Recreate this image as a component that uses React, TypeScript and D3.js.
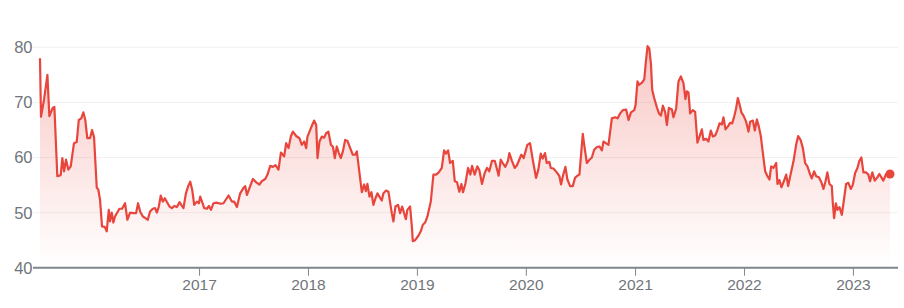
import React from "react";
import * as d3 from "d3";

// Dates as decimal years
const years: number[] = [
  2015.538, 2015.547, 2015.575, 2015.606, 2015.624, 2015.655, 2015.670, 2015.697, 2015.728, 2015.743,
  2015.759, 2015.777, 2015.798, 2015.820, 2015.850, 2015.875, 2015.894, 2015.917, 2015.936, 2015.954,
  2015.972, 2015.997, 2016.016, 2016.034, 2016.059, 2016.073, 2016.089, 2016.107, 2016.132, 2016.150,
  2016.169, 2016.180, 2016.196, 2016.211, 2016.226, 2016.266, 2016.291, 2016.318, 2016.339, 2016.364,
  2016.394, 2016.419, 2016.437, 2016.456, 2016.481, 2016.504, 2016.526, 2016.547, 2016.572, 2016.593,
  2016.609, 2016.627, 2016.645, 2016.664, 2016.682, 2016.725, 2016.747, 2016.768, 2016.793, 2016.817,
  2016.839, 2016.853, 2016.875, 2016.896, 2016.915, 2016.933, 2016.951, 2016.976, 2016.994, 2017.006,
  2017.043, 2017.068, 2017.086, 2017.105, 2017.128, 2017.153, 2017.196, 2017.220, 2017.266, 2017.297,
  2017.318, 2017.343, 2017.373, 2017.404, 2017.419, 2017.435, 2017.465, 2017.490, 2017.520, 2017.550,
  2017.572, 2017.603, 2017.624, 2017.649, 2017.673, 2017.697, 2017.725, 2017.747, 2017.777, 2017.795,
  2017.817, 2017.839, 2017.857, 2017.887, 2017.917, 2017.939, 2017.961, 2017.979, 2017.991, 2018.016,
  2018.034, 2018.052, 2018.071, 2018.083, 2018.101, 2018.123, 2018.144, 2018.162, 2018.183, 2018.206,
  2018.224, 2018.242, 2018.260, 2018.279, 2018.297, 2018.316, 2018.337, 2018.358, 2018.383, 2018.407,
  2018.428, 2018.444, 2018.468, 2018.490, 2018.511, 2018.527, 2018.541, 2018.560, 2018.578, 2018.596,
  2018.615, 2018.633, 2018.651, 2018.673, 2018.688, 2018.713, 2018.734, 2018.765, 2018.780, 2018.798,
  2018.823, 2018.841, 2018.860, 2018.878, 2018.894, 2018.908, 2018.933, 2018.949, 2018.958, 2018.979,
  2019.009, 2019.031, 2019.050, 2019.071, 2019.092, 2019.123, 2019.147, 2019.172, 2019.196, 2019.224,
  2019.245, 2019.263, 2019.282, 2019.300, 2019.325, 2019.343, 2019.364, 2019.385, 2019.404, 2019.419,
  2019.440, 2019.465, 2019.486, 2019.502, 2019.526, 2019.550, 2019.569, 2019.593, 2019.618, 2019.639,
  2019.660, 2019.685, 2019.710, 2019.728, 2019.746, 2019.765, 2019.783, 2019.807, 2019.832, 2019.844,
  2019.868, 2019.893, 2019.914, 2019.935, 2019.954, 2019.976, 2020.009, 2020.034, 2020.059, 2020.089,
  2020.110, 2020.132, 2020.150, 2020.171, 2020.187, 2020.211, 2020.224, 2020.248, 2020.279, 2020.303,
  2020.318, 2020.334, 2020.358, 2020.376, 2020.401, 2020.425, 2020.446, 2020.467, 2020.486, 2020.517,
  2020.532, 2020.554, 2020.578, 2020.600, 2020.621, 2020.646, 2020.670, 2020.692, 2020.706, 2020.728,
  2020.752, 2020.783, 2020.814, 2020.835, 2020.859, 2020.884, 2020.914, 2020.936, 2020.958, 2020.988,
  2021.000, 2021.018, 2021.034, 2021.059, 2021.080, 2021.095, 2021.110, 2021.126, 2021.141, 2021.153,
  2021.171, 2021.196, 2021.215, 2021.233, 2021.251, 2021.272, 2021.288, 2021.306, 2021.334, 2021.348,
  2021.373, 2021.394, 2021.416, 2021.440, 2021.458, 2021.471, 2021.486, 2021.501, 2021.526, 2021.547,
  2021.568, 2021.587, 2021.609, 2021.623, 2021.648, 2021.669, 2021.691, 2021.710, 2021.731, 2021.752,
  2021.771, 2021.793, 2021.807, 2021.826, 2021.850, 2021.868, 2021.887, 2021.905, 2021.923, 2021.939,
  2021.954, 2021.972, 2021.991, 2022.015, 2022.037, 2022.052, 2022.077, 2022.095, 2022.114, 2022.132,
  2022.150, 2022.169, 2022.190, 2022.211, 2022.229, 2022.245, 2022.266, 2022.291, 2022.303, 2022.321,
  2022.339, 2022.358, 2022.383, 2022.401, 2022.426, 2022.450, 2022.474, 2022.493, 2022.517, 2022.536,
  2022.557, 2022.578, 2022.603, 2022.618, 2022.639, 2022.658, 2022.683, 2022.706, 2022.725, 2022.743,
  2022.761, 2022.780, 2022.802, 2022.811, 2022.823, 2022.839, 2022.853, 2022.872, 2022.894, 2022.915,
  2022.933, 2022.954, 2022.976, 2022.994, 2023.016, 2023.037, 2023.055, 2023.073, 2023.092, 2023.116,
  2023.137, 2023.153, 2023.174, 2023.196, 2023.220, 2023.238, 2023.257, 2023.275, 2023.300, 2023.321,
  2023.336,
];

const prices: number[] = [
  78.0, 67.4, 70.5, 75.0, 67.5, 69.0, 69.2, 56.6, 56.8, 59.9,
  57.5, 59.6, 57.8, 58.4, 62.6, 62.8, 66.8, 67.1, 68.2, 66.8,
  63.5, 63.5, 65.0, 63.7, 54.5, 54.2, 52.3, 47.5, 47.4, 46.6,
  50.5, 48.4, 50.0, 48.2, 49.3, 50.7, 50.7, 51.7, 48.7, 50.0,
  49.9, 49.9, 51.7, 50.2, 49.3, 49.0, 48.7, 50.2, 50.7, 50.8,
  50.0, 51.1, 53.1, 52.0, 52.6, 51.1, 50.8, 51.2, 51.0, 51.9,
  51.2, 50.8, 53.5, 54.8, 55.6, 54.1, 51.4, 52.0, 51.7, 52.9,
  50.8, 50.7, 51.2, 50.5, 51.7, 51.8, 51.6, 51.7, 53.1, 52.0,
  52.0, 51.0, 53.5, 54.5, 54.8, 53.2, 54.8, 56.1, 55.5, 55.1,
  55.7, 56.1, 56.9, 58.5, 58.3, 58.6, 57.8, 60.9, 60.2, 62.6,
  61.7, 63.9, 64.7, 63.9, 63.5, 62.3, 62.9, 61.7, 63.8, 65.0,
  65.9, 66.7, 65.9, 59.9, 62.9, 63.8, 63.6, 64.4, 64.7, 62.3,
  62.0, 59.9, 62.0, 60.8, 59.9, 61.1, 63.2, 63.0, 61.7, 60.5,
  60.5, 61.1, 57.2, 53.7, 55.1, 53.9, 55.2, 52.9, 53.7, 51.4,
  52.6, 53.5, 52.9, 52.2, 53.5, 54.0, 53.8, 49.9, 48.4, 51.1,
  51.4, 49.9, 51.1, 49.9, 48.8, 50.5, 51.1, 47.5, 44.8, 45.0,
  45.8, 46.6, 47.8, 48.2, 49.3, 52.0, 56.9, 56.9, 57.3, 58.1,
  61.3, 60.7, 61.3, 59.0, 59.4, 55.7, 55.5, 53.8, 55.2, 53.7,
  55.2, 58.1, 56.9, 58.5, 56.9, 58.4, 57.7, 55.2, 57.2, 58.1,
  57.5, 59.4, 59.4, 58.1, 56.7, 59.6, 59.0, 58.3, 59.4, 60.8,
  59.4, 58.1, 58.6, 59.6, 60.5, 59.9, 62.3, 62.6, 59.6, 56.3,
  57.8, 60.7, 59.8, 60.8, 59.0, 59.2, 58.1, 58.0, 57.3, 56.6,
  55.1, 56.6, 58.3, 56.0, 54.8, 54.8, 56.3, 56.7, 56.9, 64.3,
  62.0, 59.0, 59.6, 60.0, 61.4, 61.9, 62.0, 61.3, 62.9, 62.6,
  62.3, 67.1, 67.3, 67.1, 68.0, 68.6, 68.7, 66.8, 68.2, 68.6,
  69.5, 73.8, 73.2, 73.6, 74.2, 77.4, 80.2, 79.8, 77.1, 72.3,
  70.8, 69.1, 68.0, 67.6, 69.4, 68.2, 65.9, 69.0, 68.7, 67.3,
  68.9, 73.8, 74.7, 73.5, 70.6, 72.0, 71.8, 68.0, 68.6, 68.3,
  62.7, 63.8, 65.1, 63.2, 63.4, 62.9, 64.9, 63.8, 64.0, 65.0,
  66.2, 66.0, 67.3, 65.1, 65.7, 66.3, 66.2, 67.4, 68.9, 70.8,
  69.7, 68.2, 67.6, 66.5, 64.7, 66.5, 66.7, 64.9, 66.9, 65.6,
  63.9, 60.8, 57.5, 56.6, 56.0, 58.4, 58.1, 59.0, 55.2, 55.9,
  54.6, 55.5, 56.9, 54.8, 57.2, 59.3, 62.3, 63.9, 63.1, 61.7,
  59.0, 58.4, 56.9, 56.2, 57.5, 56.6, 56.4, 55.5, 54.3, 55.6,
  57.3, 55.2, 54.8, 51.7, 49.0, 51.7, 50.5, 51.0, 49.6, 52.6,
  55.2, 55.4, 54.3, 55.0, 57.2, 58.1, 59.4, 60.0, 57.3, 57.3,
  56.9, 55.7, 57.3, 55.8, 56.4, 57.0, 56.4, 55.8, 57.0, 57.0,
  57.0,
];

const yTicks: number[] = [40, 50, 60, 70, 80];
const xTickYears: number[] = [2017, 2018, 2019, 2020, 2021, 2022, 2023];

function toDate(t: number): Date {
  const y = Math.floor(t);
  const s = new Date(y, 0, 1).getTime();
  const e = new Date(y + 1, 0, 1).getTime();
  return new Date(s + (t - y) * (e - s));
}

const W = 904;
const H = 308;
const RED = "#e8453c";
const FONT = "'Liberation Sans', Arial, sans-serif";

export default function App() {
  const data = years.map((t, i) => ({ date: toDate(t), value: prices[i] }));
  const x = d3
    .scaleTime()
    .domain(d3.extent(data, (d) => d.date) as [Date, Date])
    .range([40, 890]);
  const y = d3.scaleLinear().domain([40, 80]).range([267.7, 47.3]);

  const line = d3
    .line<{ date: Date; value: number }>()
    .x((d) => x(d.date))
    .y((d) => y(d.value))
    .curve(d3.curveLinear);
  const area = d3
    .area<{ date: Date; value: number }>()
    .x((d) => x(d.date))
    .y0(y(40))
    .y1((d) => y(d.value));

  const last = data[data.length - 1];
  const gridX0 = 33;
  const gridX1 = 898;

  return (
    <svg
      width={W}
      height={H}
      style={{ position: "absolute", left: 0, top: 0, display: "block", background: "#fff" }}
    >
      <defs>
        <linearGradient id="fillGrad" gradientUnits="userSpaceOnUse" x1="0" y1={y(80)} x2="0" y2={y(40)}>
          <stop offset="0%" stopColor={RED} stopOpacity={0.3} />
          <stop offset="100%" stopColor={RED} stopOpacity={0} />
        </linearGradient>
      </defs>
      {yTicks.map((t) => (
        <g key={t}>
          {t !== 40 && (
            <line x1={gridX0} x2={gridX1} y1={y(t)} y2={y(t)} stroke="#f1f1f1" strokeWidth={1} />
          )}
          <text
            x={32.5}
            y={y(t)}
            dy="0.36em"
            textAnchor="end"
            fontFamily={FONT}
            fontSize={16.5}
            fill="#70757a"
          >
            {t}
          </text>
        </g>
      ))}
      <path d={area(data) || ""} fill="url(#fillGrad)" />
      <path d={line(data) || ""} fill="none" stroke={RED} strokeWidth={2.2} strokeLinejoin="round" />
      <line x1={gridX0} x2={gridX1} y1={y(40)} y2={y(40)} stroke="#80868b" strokeWidth={2} />
      {xTickYears.map((yr) => {
        const xp = x(new Date(yr, 0, 1));
        return (
          <g key={yr}>
            <line x1={xp} x2={xp} y1={y(40)} y2={y(40) + 8} stroke="#80868b" strokeWidth={1} />
            <text
              x={xp}
              y={289.5}
              textAnchor="middle"
              fontFamily={FONT}
              fontSize={15.5}
              fill="#70757a"
            >
              {yr}
            </text>
          </g>
        );
      })}
      <circle cx={x(last.date)} cy={y(last.value)} r={4.5} fill={RED} />
    </svg>
  );
}
